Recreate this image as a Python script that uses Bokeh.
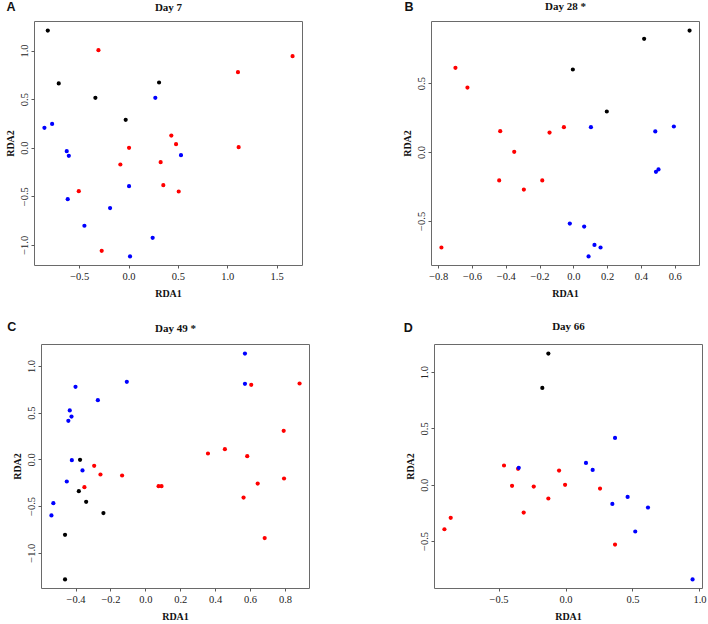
from bokeh.plotting import figure
from bokeh.models import Range1d, FixedTicker, CustomJSTickFormatter
from bokeh.layouts import column, row
from bokeh.core.properties import value
from bokeh.embed import file_html
from bokeh.resources import INLINE

# ---------------- data ----------------
# Panel A: Day 7
a_black_x = [-0.823, -0.712, -0.341, -0.034, 0.304]
a_black_y = [1.211, 0.666, 0.518, 0.292, 0.676]
a_red_x = [-0.310, 1.656, 1.103, 1.110, 0.428, 0.476, 0.000, 0.320, -0.088, 0.347, 0.503, -0.509, -0.277]
a_red_y = [1.009, 0.947, 0.782, 0.010, 0.130, 0.041, 0.003, -0.144, -0.168, -0.381, -0.446, -0.443, -1.057]
a_blue_x = [-0.857, -0.779, 0.266, -0.631, -0.610, 0.526, 0.000, -0.621, -0.192, -0.452, 0.239, 0.010]
a_blue_y = [0.209, 0.250, 0.518, -0.031, -0.079, -0.072, -0.391, -0.525, -0.617, -0.799, -0.923, -1.115]

# Panel B: Day 28 *
b_black_x = [0.685, 0.416, -0.006, 0.195]
b_black_y = [0.886, 0.826, 0.603, 0.298]
b_red_x = [-0.701, -0.630, -0.436, -0.144, -0.059, -0.353, -0.442, -0.296, -0.187, -0.784]
b_red_y = [0.615, 0.472, 0.155, 0.145, 0.184, 0.005, -0.203, -0.269, -0.203, -0.690]
b_blue_x = [0.101, 0.482, 0.592, 0.486, 0.501, -0.024, 0.061, 0.122, 0.158, 0.087]
b_blue_y = [0.184, 0.153, 0.189, -0.140, -0.123, -0.516, -0.538, -0.671, -0.690, -0.755]

# Panel C: Day 49 *
c_black_x = [-0.377, -0.384, -0.342, -0.243, -0.463, -0.463]
c_black_y = [0.000, -0.336, -0.450, -0.571, -0.804, -1.282]
c_red_x = [0.604, 0.881, 0.790, 0.356, 0.453, 0.581, -0.296, -0.260, -0.136, -0.352, 0.073, 0.090, 0.792, 0.641, 0.560, 0.681]
c_red_y = [0.804, 0.818, 0.311, 0.068, 0.114, 0.039, -0.064, -0.157, -0.168, -0.293, -0.282, -0.282, -0.200, -0.254, -0.404, -0.839]
c_blue_x = [0.568, 0.568, -0.109, -0.403, -0.275, -0.436, -0.426, -0.444, -0.424, -0.363, -0.453, -0.530, -0.541]
c_blue_y = [1.139, 0.814, 0.836, 0.782, 0.639, 0.529, 0.464, 0.418, -0.004, -0.114, -0.232, -0.464, -0.596]

# Panel D: Day 66
d_black_x = [-0.132, -0.177]
d_black_y = [1.169, 0.864]
d_red_x = [-0.463, -0.358, -0.052, -0.403, -0.241, -0.007, 0.254, -0.132, -0.316, -0.861, -0.908, 0.366]
d_red_y = [0.175, 0.145, 0.130, -0.006, -0.012, 0.003, -0.030, -0.118, -0.243, -0.290, -0.391, -0.527]
d_blue_x = [0.366, -0.353, 0.149, 0.199, 0.460, 0.612, 0.346, 0.517, 0.945]
d_blue_y = [0.420, 0.154, 0.198, 0.136, -0.104, -0.198, -0.166, -0.411, -0.837]

letters = ["A", "B", "C", "D"]
titles = ["Day 7", "Day 28 *", "Day 49 *", "Day 66"]
x_label = "RDA1"
y_label = "RDA2"
x_ticks = [[-0.5, 0.0, 0.5, 1.0, 1.5],
           [-0.8, -0.6, -0.4, -0.2, 0.0, 0.2, 0.4, 0.6],
           [-0.4, -0.2, 0.0, 0.2, 0.4, 0.6, 0.8],
           [-0.5, 0.0, 0.5, 1.0]]
y_ticks = [[-1.0, -0.5, 0.0, 0.5, 1.0],
           [-0.5, 0.0, 0.5],
           [-1.0, -0.5, 0.0, 0.5, 1.0],
           [-0.5, 0.0, 0.5, 1.0]]

panels = [
    [(a_black_x, a_black_y), (a_red_x, a_red_y), (a_blue_x, a_blue_y)],
    [(b_black_x, b_black_y), (b_red_x, b_red_y), (b_blue_x, b_blue_y)],
    [(c_black_x, c_black_y), (c_red_x, c_red_y), (c_blue_x, c_blue_y)],
    [(d_black_x, d_black_y), (d_red_x, d_red_y), (d_blue_x, d_blue_y)],
]
group_colors = ["#000000", "#FF0000", "#0000FF"]

# ---------------- layout (page pixels) ----------------
TOTAL_W = 708
HALF_W = 354
STRIP_H = [19, 27]
FW, FH = 268, 244
# left, top, right, bottom borders per panel
borders = [(34, 2, 52, 47), (77, 2, 9, 47), (41, 5, 45, 36), (80, 2, 6, 39)]
# header text anchors inside each strip: y measured from strip bottom
letter_x = [6.0, 404.0, 6.7, 403.3]
letter_y = [12.8, 12.5, 12.2, 11.5]
title_y = [13.0, 13.2, 11.5, 13.8]
panel_x0 = [0, HALF_W, 0, HALF_W]

SERIF = "Liberation Serif"
SANS = "Liberation Sans"
INK = "#111111"

fmt_code = "return (tick < 0 ? '\\u2212' : '') + Math.abs(tick).toFixed(1);"


def padded(vals):
    lo, hi = min(vals), max(vals)
    pad = 0.04 * (hi - lo)
    return Range1d(lo - pad, hi + pad)


def make_strip(h, idx):
    s = figure(frame_width=TOTAL_W, frame_height=h,
               min_border_left=0, min_border_right=0, min_border_top=0, min_border_bottom=0,
               x_range=Range1d(0, TOTAL_W), y_range=Range1d(0, h),
               x_axis_location=None, y_axis_location=None,
               output_backend="svg", toolbar_location=None, title=None)
    s.grid.visible = False
    s.outline_line_color = None
    s.background_fill_color = "white"
    s.border_fill_color = "white"
    for i in idx:
        s.text(x=[letter_x[i]], y=[letter_y[i]], text=[letters[i]], text_font=value(SANS),
               text_font_style="bold", text_font_size=value("12.5px"), text_color=INK,
               text_align="left", text_baseline="alphabetic")
        cx = panel_x0[i] + borders[i][0] + FW / 2
        s.text(x=[cx], y=[title_y[i]], text=[titles[i]], text_font=value(SERIF),
               text_font_style="bold", text_font_size=value("11px"), text_color=INK,
               text_align="center", text_baseline="alphabetic")
    return s


figs = []
for i, groups in enumerate(panels):
    allx = [v for g in groups for v in g[0]]
    ally = [v for g in groups for v in g[1]]
    bl, bt, br, bb = borders[i]
    p = figure(frame_width=FW, frame_height=FH,
               min_border_left=bl, min_border_top=bt,
               min_border_right=br, min_border_bottom=bb,
               x_range=padded(allx), y_range=padded(ally),
               output_backend="svg", toolbar_location=None, title=None)
    p.background_fill_color = "white"
    p.border_fill_color = "white"
    p.outline_line_color = "#6a6a6a"
    p.outline_line_width = 1
    p.grid.visible = False

    for (gx, gy), col in zip(groups, group_colors):
        p.scatter(gx, gy, size=4.2, color=col, marker="circle", line_width=0)

    p.xaxis.ticker = FixedTicker(ticks=x_ticks[i])
    p.yaxis.ticker = FixedTicker(ticks=y_ticks[i])
    for ax in (p.xaxis[0], p.yaxis[0]):
        ax.formatter = CustomJSTickFormatter(code=fmt_code)
        ax.axis_line_color = None
        ax.major_tick_line_color = "#5a5a5a"
        ax.major_tick_out = 3
        ax.major_tick_in = 0
        ax.minor_tick_line_color = None
        ax.major_label_text_font = SERIF
        ax.major_label_text_font_size = "10.5px"
        ax.major_label_text_color = "#222222"
        ax.axis_label_text_font = SERIF
        ax.axis_label_text_font_style = "bold"
        ax.axis_label_text_font_size = "10px"
        ax.axis_label_text_color = INK
    p.xaxis.axis_label = x_label
    p.yaxis.axis_label = y_label
    p.xaxis.major_label_standoff = 4
    p.yaxis.major_label_standoff = 3
    p.xaxis.axis_label_standoff = 5
    p.yaxis.axis_label_standoff = 3
    p.yaxis.major_label_orientation = "vertical"
    figs.append(p)

layout = column(make_strip(STRIP_H[0], [0, 1]), row(figs[0], figs[1]),
                make_strip(STRIP_H[1], [2, 3]), row(figs[2], figs[3]))
open("out.html", "w").write(file_html(layout, INLINE))
